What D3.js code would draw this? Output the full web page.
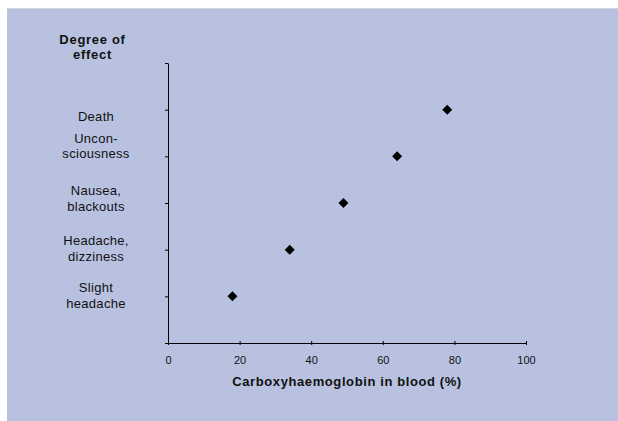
<!DOCTYPE html>
<html>
<head>
<meta charset="utf-8">
<script src="https://cdn.jsdelivr.net/npm/d3@7"></script>
<style>
  body { margin: 0; background: #fff; }
  svg { display: block; font-family: "Liberation Sans", Arial, sans-serif; }
</style>
</head>
<body>
<div id="wrapper"></div>
<script>
// data
const effects = ["Slight headache", "Headache, dizziness", "Nausea, blackouts", "Uncon- sciousness", "Death"]
const effectLines = [["Slight", "headache"], ["Headache,", "dizziness"], ["Nausea,", "blackouts"], ["Uncon-", "sciousness"], ["Death"]]
const effectLevels = [1, 2, 3, 4, 5]
const coHbPercent = [18, 34, 49, 64, 78]
const xTicks = [0, 20, 40, 60, 80, 100]

function drawChart() {
  const dimensions = {
    width: 618,
    height: 421,
    margin: { top: 63, right: 92, bottom: 78, left: 168 }
  }
  dimensions.boundedWidth = dimensions.width - dimensions.margin.left - dimensions.margin.right
  dimensions.boundedHeight = dimensions.height - dimensions.margin.top - dimensions.margin.bottom

  const wrapper = d3.select("#wrapper")
    .append("svg")
      .attr("width", dimensions.width)
      .attr("height", dimensions.height)

  // panel background
  wrapper.append("rect")
    .attr("x", 7)
    .attr("y", 8)
    .attr("width", dimensions.width - 7)
    .attr("height", dimensions.height - 8)
    .attr("fill", "#b8c2e0")
  wrapper.append("line")
    .attr("x1", 7).attr("x2", dimensions.width)
    .attr("y1", 8.5).attr("y2", 8.5)
    .attr("stroke", "#d2d5de")

  const bounds = wrapper.append("g")
    .attr("transform", `translate(${dimensions.margin.left}, ${dimensions.margin.top})`)

  const xScale = d3.scaleLinear()
    .domain([0, 100])
    .range([0, dimensions.boundedWidth])

  const yScale = d3.scaleLinear()
    .domain([0, 6])
    .range([dimensions.boundedHeight, 0])

  // x axis
  const xAxis = bounds.append("g")
    .attr("transform", `translate(0, ${dimensions.boundedHeight})`)
    .call(d3.axisBottom(xScale).tickValues(xTicks).tickSize(4).tickSizeOuter(0).tickPadding(9))
  xAxis.select(".domain").attr("stroke", "#000")
  xAxis.selectAll(".tick line").attr("y1", -2).attr("y2", 2)
  xAxis.selectAll("text")
    .attr("fill", "#111")
    .style("font-size", "11px")

  // y axis (no numeric labels)
  const yAxis = bounds.append("g")
    .call(d3.axisLeft(yScale).tickValues([0, 1, 2, 3, 4, 5, 6]).tickSize(3).tickSizeOuter(0).tickFormat(""))
  yAxis.select(".domain").attr("stroke", "#000")

  // category labels, nudged like the hand-placed originals
  const labelNudge = [0, 0, -3.5, -9.5, 7]
  const labels = bounds.append("g")
    .selectAll("text")
    .data(effectLevels)
    .join("text")
      .attr("x", -72)
      .attr("y", (d, i) => yScale(d) + labelNudge[i])
      .style("text-anchor", "middle")
      .style("font-size", "13px")
      .style("letter-spacing", "0.3px")
      .attr("fill", "#111")

  labels.each(function(d, i) {
    const lines = effectLines[i]
    const sel = d3.select(this)
    lines.forEach((line, j) => {
      sel.append("tspan")
        .attr("x", -72)
        .attr("dy", j === 0 ? (lines.length === 1 ? 4 : -4.3) : 15.5)
        .text(line)
    })
  })

  // points
  bounds.append("g")
    .selectAll("path")
    .data(effectLevels)
    .join("path")
      .attr("transform", (d, i) => `translate(${xScale(coHbPercent[i])}, ${yScale(d)}) rotate(45)`)
      .attr("d", d3.symbol().type(d3.symbolSquare).size(50))
      .attr("fill", "#000")

  // axis titles
  wrapper.append("text")
    .attr("x", 92.5)
    .attr("y", 44)
    .style("text-anchor", "middle")
    .style("font-size", "13px")
    .style("font-weight", "bold")
    .style("letter-spacing", "0.7px")
    .attr("fill", "#111")
    .selectAll("tspan")
    .data(["Degree of", "effect"])
    .join("tspan")
      .attr("x", 92.5)
      .attr("dy", (d, i) => i === 0 ? 0 : 15)
      .text(d => d)

  wrapper.append("text")
    .attr("x", dimensions.margin.left + dimensions.boundedWidth / 2)
    .attr("y", 386)
    .style("text-anchor", "middle")
    .style("font-size", "13px")
    .style("font-weight", "bold")
    .style("letter-spacing", "0.6px")
    .attr("fill", "#111")
    .text("Carboxyhaemoglobin in blood (%)")
}

drawChart()
</script>
</body>
</html>
